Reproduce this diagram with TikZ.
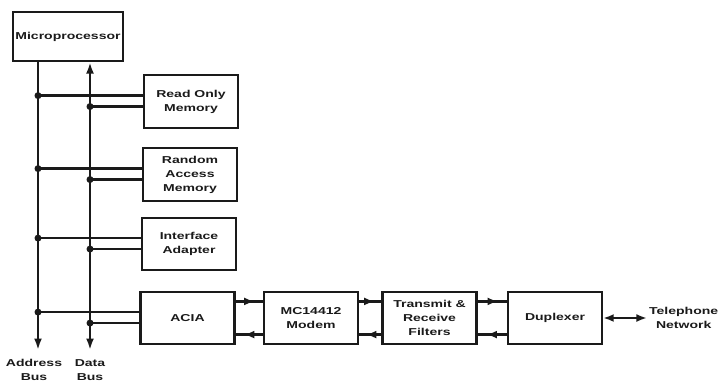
\documentclass[tikz,border=0pt]{standalone}
\usepackage{fontspec}
\usepackage{xcolor}
\usepackage{tikz}
\usetikzlibrary{arrows.meta,decorations.markings,positioning}
\newfontfamily\blockfont{Liberation Sans}[FakeStretch=1.4]
\definecolor{MCInk}{HTML}{1A1A1A}

\begin{document}
\begin{tikzpicture}[x=1cm,y=1cm,
  blk/.style={draw=MCInk,line width=1.3pt,minimum width=1.88cm,minimum height=1.05cm,inner sep=0pt,align=center,text=MCInk,font=\blockfont\bfseries\fontsize{5.7}{8}\selectfont},
  lbl/.style={inner sep=1pt,align=center,text=MCInk,font=\blockfont\bfseries\fontsize{5.7}{8}\selectfont},
  wire/.style={MCInk,line width=1.4pt},
  busarrow/.style={wire,-{Latex[length=6.5pt,width=4.5pt]}},
  flow/.style={wire,postaction={decorate},decoration={markings,mark=at position 0.7 with {\arrow{Latex[length=6pt,width=4.5pt]}}}}]
\path[use as bounding box] (0,0) rectangle (14.56,7.76);
\node[blk,minimum width=2.2cm,minimum height=0.98cm] (mpu) at (1.36,7.03) {Microprocessor};
\node[blk] (rom) at (3.82,5.73) {Read Only\\Memory};
\node[blk] (ram) at (3.80,4.27) {Random\\Access\\Memory};
\node[blk] (pia) at (3.78,2.88) {Interface\\Adapter};
\node[blk] (acia) at (3.75,1.40) {ACIA};
\node[blk] (modem) at (6.22,1.40) {MC14412\\Modem};
\node[blk] (filt) at (8.59,1.40) {Transmit \&\\Receive\\Filters};
\node[blk] (dup) at (11.10,1.40) {Duplexer};
\node[lbl,anchor=west] (tel) at (12.94,1.40) {Telephone\\Network};
\coordinate (abus) at (0.76,0.76);
\coordinate (dbus) at (1.80,0.76);
\node[lbl,below=0.14cm of abus,xshift=-0.08cm] (alabel) {Address\\Bus};
\node[lbl,below=0.14cm of dbus] (dlabel) {Data\\Bus};
\draw[busarrow] (mpu.south -| abus) -- (abus);
\draw[wire,{Latex[length=6.5pt,width=4.5pt]}-{Latex[length=6.5pt,width=4.5pt]}] (mpu.south -| dbus) -- (dbus);
\draw[wire] (rom.173) -- (rom.173 -| abus);
\fill[MCInk] (rom.173 -| abus) circle (.07);
\draw[wire] (rom.186) -- (rom.186 -| dbus);
\fill[MCInk] (rom.186 -| dbus) circle (.07);
\draw[wire] (ram.173) -- (ram.173 -| abus);
\fill[MCInk] (ram.173 -| abus) circle (.07);
\draw[wire] (ram.186) -- (ram.186 -| dbus);
\fill[MCInk] (ram.186 -| dbus) circle (.07);
\draw[wire] (pia.173) -- (pia.173 -| abus);
\fill[MCInk] (pia.173 -| abus) circle (.07);
\draw[wire] (pia.186) -- (pia.186 -| dbus);
\fill[MCInk] (pia.186 -| dbus) circle (.07);
\draw[wire] (acia.173) -- (acia.173 -| abus);
\fill[MCInk] (acia.173 -| abus) circle (.07);
\draw[wire] (acia.186) -- (acia.186 -| dbus);
\fill[MCInk] (acia.186 -| dbus) circle (.07);
\draw[flow] (acia.19) -- (modem.161);
\draw[flow] (modem.199) -- (acia.-19);
\draw[flow] (modem.19) -- (filt.161);
\draw[flow] (filt.199) -- (modem.-19);
\draw[flow] (filt.19) -- (dup.161);
\draw[flow] (dup.199) -- (filt.-19);
\draw[wire,{Latex[length=6pt,width=4.5pt]}-{Latex[length=6pt,width=4.5pt]}] (dup.east) -- (tel.west);
\end{tikzpicture}
\end{document}
